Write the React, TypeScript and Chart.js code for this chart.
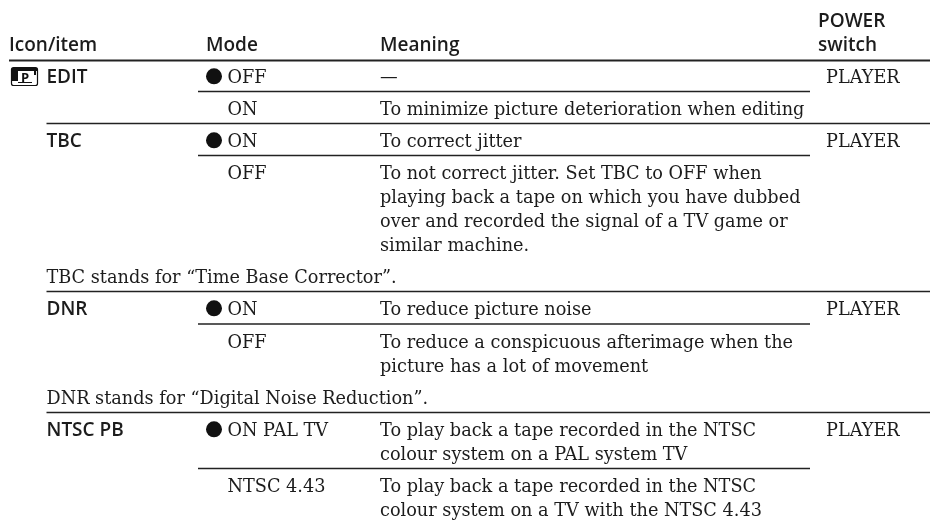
import React, { useEffect, useRef } from "react";
import { Chart, registerables } from "chart.js";

Chart.register(...registerables);

const headers = ["Icon/item", "Mode", "Meaning", "POWER", "switch"];
const items = ["EDIT", "TBC", "DNR", "NTSC PB"];
const modes = ["OFF", "ON", "ON", "OFF", "ON", "OFF", "ON PAL TV", "NTSC 4.43"];
const switches = ["PLAYER", "PLAYER", "PLAYER", "PLAYER"];
const meanings = [
  "—",
  "To minimize picture deterioration when editing",
  "To correct jitter",
  "To not correct jitter. Set TBC to OFF when",
  "playing back a tape on which you have dubbed",
  "over and recorded the signal of a TV game or",
  "similar machine.",
  "To reduce picture noise",
  "To reduce a conspicuous afterimage when the",
  "picture has a lot of movement",
  "To play back a tape recorded in the NTSC",
  "colour system on a PAL system TV",
  "To play back a tape recorded in the NTSC",
  "colour system on a TV with the NTSC 4.43",
];
const notes = ["TBC stands for “Time Base Corrector”.", "DNR stands for “Digital Noise Reduction”."];

// layout (baselines, in table coordinates that equal the picture's pixels)
const W = 930;
const H = 520;
const PAD = 8; // Chart.js reserves the point radius around the plot area
const itemX = 46.5;
const modeX = 227.5;
const bulletX = 214;
const meanX = 380;
const switchX = 826;
const itemYs = [83, 147, 315, 436];
const modeYs = [83, 115, 147, 179, 315, 348, 436, 492];
const meaningYs = [83, 115, 147, 179, 203, 227, 251, 315, 348, 372, 436, 460, 492, 516];
const switchYs = [83, 147, 315, 436];
const noteYs = [283, 404];
const bulletRows = [0, 2, 4, 6];
const fullRules = [60.5, 123.5, 291.5, 412.5];
const shortRules = [91.5, 155.5, 324, 468.5];

const SERIF = '"DejaVu Serif"';
const SANS = '"Open Sans"';

export default function App() {
  const ref = useRef<HTMLCanvasElement>(null);
  useEffect(() => {
    if (!ref.current) return;
    const textPlugin = {
      id: "tableText",
      afterDatasetsDraw(chart: any) {
        const { ctx, scales } = chart;
        const X = (v: number) => scales.x.getPixelForValue(v);
        const Y = (v: number) => scales.y.getPixelForValue(v);
        ctx.save();
        ctx.fillStyle = "#1c1c1c";
        ctx.textBaseline = "alphabetic";
        ctx.textAlign = "left";
        const sans = (t: string, x: number, y: number) => {
          ctx.font = `600 19px ${SANS}`;
          ctx.fillText(t, X(x), Y(y));
        };
        const serif = (t: string, x: number, y: number) => {
          ctx.font = `17.7px ${SERIF}`;
          ctx.fillText(t, X(x), Y(y));
        };
        sans(headers[0], 9, 50.5);
        sans(headers[1], 206, 50.5);
        sans(headers[2], 380, 50.5);
        sans(headers[3], 818, 26.5);
        sans(headers[4], 818, 50.5);
        items.forEach((t, i) => sans(t, itemX, itemYs[i]));
        modes.forEach((t, i) => serif(t, modeX, modeYs[i]));
        meanings.forEach((t, i) => serif(t, meanX, meaningYs[i]));
        switches.forEach((t, i) => serif(t, switchX, switchYs[i]));
        notes.forEach((t, i) => serif(t, itemX, noteYs[i]));
        // tape-mode icon
        const ix = X(11), iy = Y(67);
        ctx.strokeStyle = "#111";
        ctx.lineWidth = 1.2;
        ctx.beginPath();
        ctx.roundRect(ix + 0.5, iy + 0.5, 26, 18, 2);
        ctx.stroke();
        ctx.fillStyle = "#111";
        ctx.fillRect(ix + 1, iy + 1, 25, 3);
        ctx.fillRect(ix + 1, iy + 1, 6, 13);
        ctx.fillRect(ix + 7, iy + 15, 14, 1);
        ctx.fillRect(ix + 23, iy + 4, 2, 4);
        ctx.fillStyle = "#111";
        ctx.font = `bold 13px ${SANS}`;
        ctx.fillText("P", ix + 10, iy + 15);
        ctx.restore();
      },
    };
    const rule = (y: number, x0: number, x1: number, w: number) => ({
      type: "line" as const,
      data: [{ x: x0, y }, { x: x1, y }],
      borderColor: "#222",
      borderWidth: w,
      pointRadius: 0,
      showLine: true,
      clip: false,
    });
    const chart = new Chart(ref.current, {
      type: "scatter",
      data: {
        datasets: [
          rule(fullRules[0], 9, W, 2),
          ...fullRules.slice(1).map((y) => rule(y, itemX, W, 1.3)),
          ...shortRules.map((y) => rule(y, 198, 810, 1.3)),
          {
            type: "scatter",
            data: bulletRows.map((r) => ({ x: bulletX, y: modeYs[r] - 6.7 })),
            backgroundColor: "#111",
            borderWidth: 0,
            pointRadius: 8,
            clip: false,
          } as any,
        ],
      },
      options: {
        animation: false,
        responsive: false,
        layout: { padding: 0 },
        plugins: { legend: { display: false }, tooltip: { enabled: false } },
        scales: {
          x: { type: "linear", min: PAD, max: W - PAD, display: false },
          y: { type: "linear", min: PAD, max: H - PAD, reverse: true, display: false },
        },
      },
      plugins: [textPlugin],
    });
    return () => chart.destroy();
  }, []);
  return (
    <canvas
      ref={ref}
      width={W}
      height={H}
      style={{ position: "fixed", left: 0, top: 0, width: W, height: H, background: "#fff" }}
    />
  );
}
